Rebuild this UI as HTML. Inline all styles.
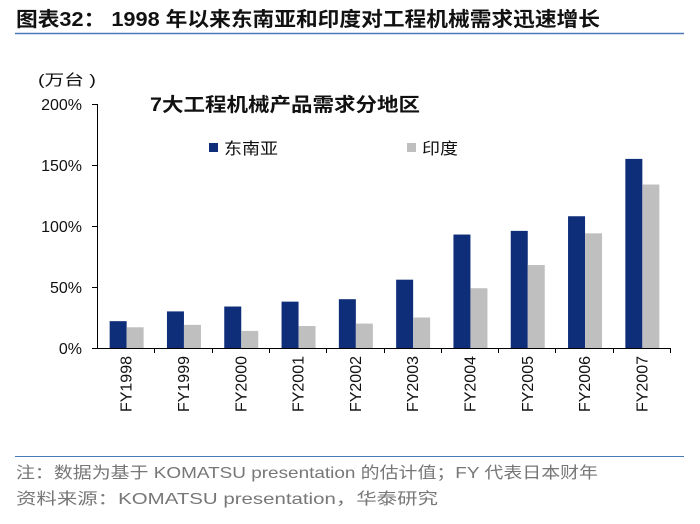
<!DOCTYPE html>
<html><head><meta charset="utf-8"><style>
body{margin:0;background:#fff;width:700px;height:519px;overflow:hidden}
svg text{font-family:"Liberation Sans","Noto Sans CJK SC",sans-serif}
</style></head><body>
<svg id="c" width="700" height="519" xmlns="http://www.w3.org/2000/svg">
<text x="16" y="26" font-size="20" font-weight="bold" fill="#111" textLength="584" lengthAdjust="spacingAndGlyphs">图表32：  1998 年以来东南亚和印度对工程机械需求迅速增长</text>
<line x1="15" y1="33.5" x2="684" y2="33.5" stroke="#4a78b8" stroke-width="1.5"/>
<text x="38" y="85" font-size="15" fill="#111" textLength="58" lengthAdjust="spacingAndGlyphs">(万台 )</text>
<text x="150" y="111" font-size="19" font-weight="bold" fill="#111" textLength="270" lengthAdjust="spacingAndGlyphs">7大工程机械产品需求分地区</text>
<rect x="209" y="143" width="9" height="9" fill="#0e2e7a"/>
<text x="224" y="154" font-size="16" fill="#111" textLength="54" lengthAdjust="spacingAndGlyphs">东南亚</text>
<rect x="407" y="143" width="9" height="9" fill="#bfbfbf"/>
<text x="422" y="154" font-size="16" fill="#111" textLength="36" lengthAdjust="spacingAndGlyphs">印度</text>
<g id="plot"></g>
<line x1="15" y1="456.5" x2="684" y2="456.5" stroke="#4a78b8" stroke-width="1"/>
<text x="16" y="478" font-size="16" fill="#777" textLength="582" lengthAdjust="spacingAndGlyphs">注：数据为基于 KOMATSU presentation 的估计值；FY 代表日本财年</text>
<text x="16" y="504" font-size="16" fill="#777" textLength="422" lengthAdjust="spacingAndGlyphs">资料来源：KOMATSU presentation，华泰研究</text>
</svg>
<script>
const categories=["FY1998","FY1999","FY2000","FY2001","FY2002","FY2003","FY2004","FY2005","FY2006","FY2007"];
const seaValues=[22,30,34,38,40,56,93,96,108,155];
const indiaValues=[17,19,14,18,20,25,49,68,94,134];
const tickValues=[0,50,100,150,200];
const tickLabels=["0%","50%","100%","150%","200%"];
const NS="http://www.w3.org/2000/svg";
const g=document.getElementById('plot');
const x0=97,x1=670,y0=348,y1=104;
const yS=v=>y0-(v/200)*(y0-y1);
const slot=(x1-x0)/categories.length;
const xS=i=>x0+i*slot;
function mk(t,a){const e=document.createElementNS(NS,t);for(const k in a)e.setAttribute(k,a[k]);g.appendChild(e);return e;}
let ax=mk('line',{x1:x0+.5,y1:y1,x2:x0+.5,y2:y0,stroke:'#000'});


let bx=mk('line',{x1:x0,y1:y0+.5,x2:x1,y2:y0+.5,stroke:'#000'});


tickValues.forEach((v,i)=>{
 const y=yS(v);
 let t=mk('line',{x1:x0-5,y1:Math.round(y)+.5,x2:x0,y2:Math.round(y)+.5,stroke:'#000'});
 
 
 let l=mk('text',{x:x0-15,y:y+6,'font-size':16,'text-anchor':'end',fill:'#111'});
 l.textContent=tickLabels[i];
 
 
});
categories.forEach((c,i)=>{
 const bw=17, cx=xS(i)+slot/2+1;
 let b=mk('rect',{x:cx-bw,y:yS(seaValues[i]),width:bw,height:y0-yS(seaValues[i]),fill:'#0e2e7a'});
 
 
 let b2=mk('rect',{x:cx,y:yS(indiaValues[i]),width:bw,height:y0-yS(indiaValues[i]),fill:'#bfbfbf'});
 
 
 let t=mk('line',{x1:Math.round(xS(i+1))+.5,y1:y0,x2:Math.round(xS(i+1))+.5,y2:y0+5,stroke:'#000'});
 
 
 let l=mk('text',{x:0,y:0,'font-size':16,'text-anchor':'end',fill:'#111',transform:`translate(${cx+5},${y0+8}) rotate(-90)`});
 l.textContent=c;
 
 
});
</script>
</body></html>
